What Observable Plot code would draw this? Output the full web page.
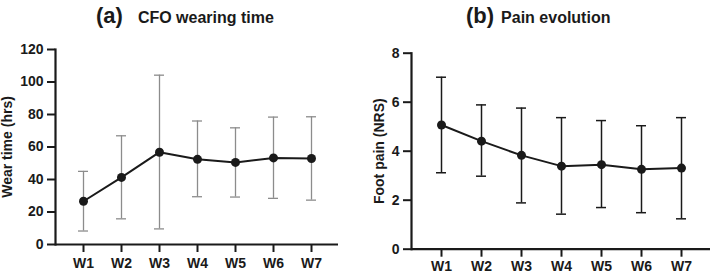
<!DOCTYPE html>
<html><head><meta charset="utf-8">
<script src="https://cdn.jsdelivr.net/npm/d3@7"></script>
<script src="https://cdn.jsdelivr.net/npm/@observablehq/plot@0.6"></script>
<style>
body{margin:0;background:#fff;font-family:"Liberation Sans",Arial,sans-serif;color:#1a1a1a}
#wrap{position:relative;width:712px;height:274px;overflow:hidden;background:#fff}
.title{position:absolute;top:5px;white-space:nowrap;font-weight:bold;font-size:22px;line-height:22px}
.title span{font-size:16px;line-height:22px}
.panel{position:absolute;top:36px;width:356px;height:238px}
.panel svg{display:block}
</style>
</head><body>
<div id="wrap">
  <div class="title" style="left:96px">(a)<span style="margin-left:15px">CFO wearing time</span></div>
  <div class="title" style="left:466px">(b)<span style="margin-left:7px">Pain evolution</span></div>
  <div class="panel" id="pa" style="left:0px"></div>
  <div class="panel" id="pb" style="left:356px"></div>
</div>
<script>
const weeks = ["W1","W2","W3","W4","W5","W6","W7"];
const wearMean = [26.6, 41.3, 56.8, 52.4, 50.5, 53.3, 52.9];
const wearLow  = [8.3, 15.8, 9.6, 29.4, 29.2, 28.4, 27.3];
const wearHigh = [45.0, 66.9, 104.2, 76.0, 71.8, 78.4, 78.6];
const wearTicks = [0, 20, 40, 60, 80, 100, 120];
const painMean = [5.07, 4.41, 3.83, 3.39, 3.45, 3.26, 3.31];
const painLow  = [3.12, 2.98, 1.89, 1.43, 1.70, 1.49, 1.24];
const painHigh = [7.02, 5.89, 5.76, 5.37, 5.25, 5.04, 5.37];
const painTicks = [0, 2, 4, 6, 8];

function panel(opts) {
  const data = weeks.map((w, i) => ({week: w, mean: opts.mean[i], lo: opts.low[i], hi: opts.high[i]}));
  return Plot.plot({
    width: 356, height: 238,
    marginTop: opts.mt, marginBottom: opts.mb, marginLeft: 55, marginRight: opts.mr,
    style: {fontFamily: '"Liberation Sans", Arial, sans-serif', color: "#1a1a1a", background: "#fff"},
    x: {type: "band", domain: weeks, paddingInner: opts.pi, paddingOuter: opts.po},
    y: {domain: opts.domain},
    marks: [
      Plot.ruleX(data, {x: "week", y1: "lo", y2: "hi", stroke: opts.errColor, strokeWidth: opts.errWidth}),
      Plot.tickY(data, {x: "week", y: "lo", stroke: opts.errColor, strokeWidth: opts.errWidth}),
      Plot.tickY(data, {x: "week", y: "hi", stroke: opts.errColor, strokeWidth: opts.errWidth}),
      Plot.line(data, {x: "week", y: "mean", stroke: "#1a1a1a", strokeWidth: 2}),
      Plot.dot(data, {x: "week", y: "mean", r: 4.5, fill: "#1a1a1a", stroke: "none"}),
      Plot.axisY({ticks: opts.ticks, tickSize: 8, tickPadding: 4, strokeWidth: 2, fontSize: 14, fontWeight: "bold",
        label: opts.label, labelAnchor: "center", labelArrow: "none", labelOffset: opts.lo}),
      Plot.axisX({tickSize: 8, tickPadding: opts.tp, strokeWidth: 2, fontSize: 14, fontWeight: "bold", label: null}),
      Plot.ruleY([0], {stroke: "#1a1a1a", strokeWidth: 2.2}),
      Plot.frame({anchor: "left", stroke: "#1a1a1a", strokeWidth: 2.2})
    ]
  });
}

document.getElementById("pa").append(panel({
  mean: wearMean, low: wearLow, high: wearHigh, ticks: wearTicks, domain: [0, 120],
  mt: 13, mb: 30, mr: 18, pi: 0.742, po: 0.53, tp: 6,
  errColor: "#8c8c8c", errWidth: 1.3, label: "Wear time (hrs)", lo: 53
}));
document.getElementById("pb").append(panel({
  mean: painMean, low: painLow, high: painHigh, ticks: painTicks, domain: [0, 8],
  mt: 16.7, mb: 25.3, mr: 2, pi: 0.754, po: 0.557, tp: 4,
  errColor: "#1a1a1a", errWidth: 1.5, label: "Foot pain (NRS)", lo: 37
}));
</script>
</body></html>
